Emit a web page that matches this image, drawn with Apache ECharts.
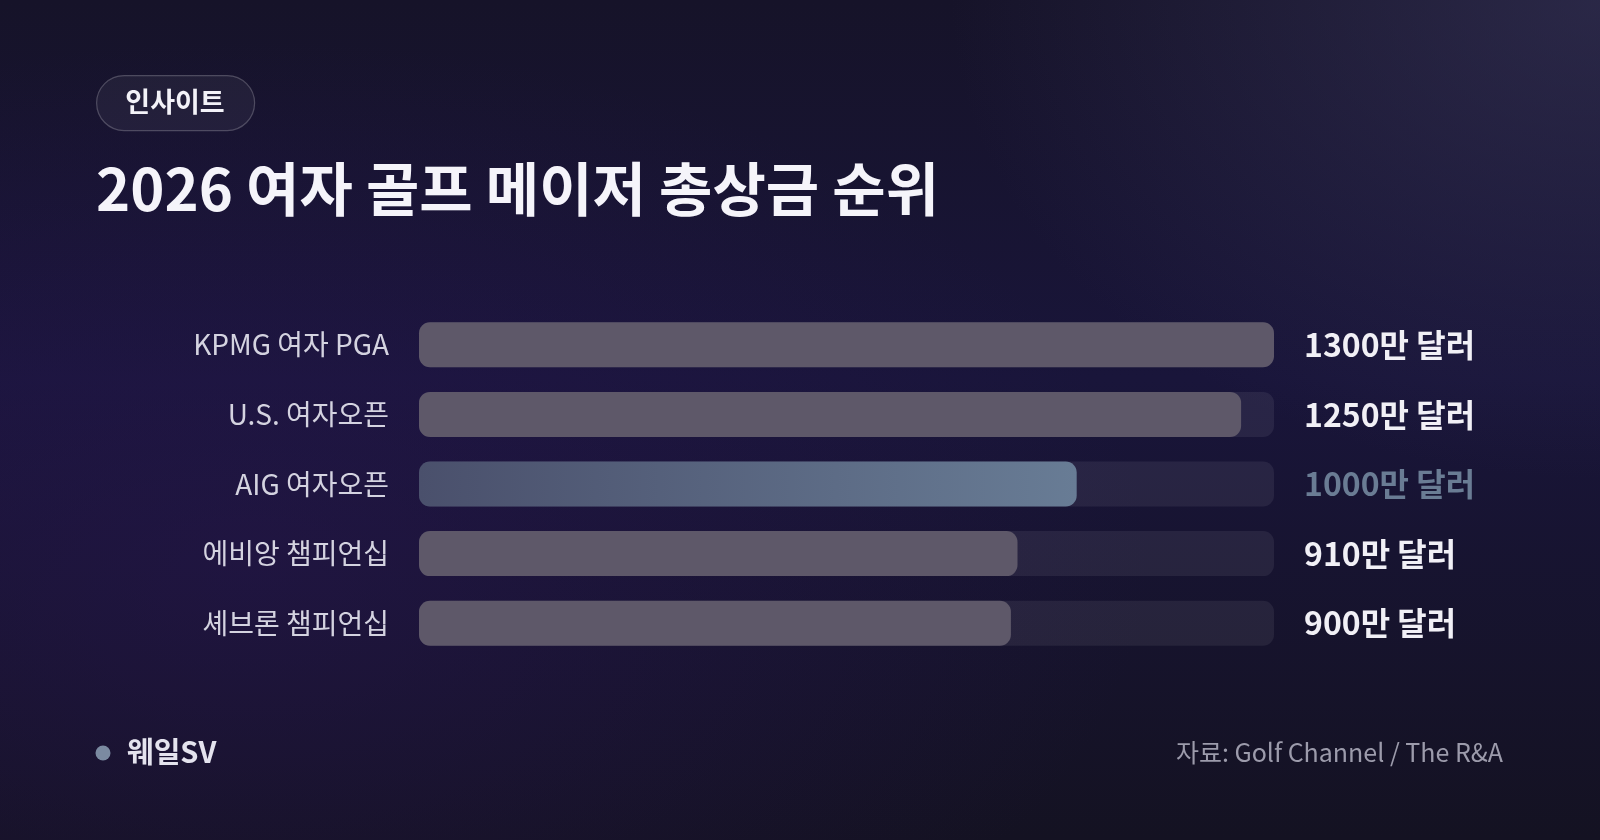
<!DOCTYPE html>
<html>
<head>
<meta charset="utf-8">
<title>2026 여자 골프 메이저 총상금 순위</title>
<script src="https://cdn.jsdelivr.net/npm/echarts@6/dist/echarts.min.js"></script>
<style>
  html, body { margin: 0; padding: 0; }
  body {
    width: 1600px; height: 840px; overflow: hidden;
    background:
      radial-gradient(ellipse 650px 480px at 1600px 0px, rgba(62, 60, 100, 0.5), rgba(62, 60, 100, 0) 100%),
      radial-gradient(ellipse 900px 520px at 250px 560px, rgba(42, 22, 84, 0.45), rgba(42, 22, 84, 0) 100%),
      linear-gradient(180deg, #161329 0%, #19153a 45%, #141222 100%);
  }
  #chart { width: 1600px; height: 840px; }
</style>
</head>
<body>
<div id="chart"></div>
<script>
// 대회별 총상금 (단위: 만 달러)
const categories = ['KPMG 여자 PGA', 'U.S. 여자오픈', 'AIG 여자오픈', '에비앙 챔피언십', '셰브론 챔피언십'];
const purses = [1300, 1250, 1000, 910, 900];
const highlight = 'AIG 여자오픈';
const axisMax = 1300;

const font = '"Noto Sans CJK KR", "Noto Sans", sans-serif';
const chart = echarts.init(document.getElementById('chart'), null, { renderer: 'canvas' });

const barData = purses.map((v, i) => {
  if (categories[i] !== highlight) return v;
  return {
    value: v,
    itemStyle: {
      color: new echarts.graphic.LinearGradient(0, 0, 1, 0, [
        { offset: 0, color: '#4a506c' },
        { offset: 1, color: '#687c95' }
      ])
    }
  };
});

const option = {
  backgroundColor: 'transparent',
  textStyle: { fontFamily: font },
  grid: { left: 419, right: 326, top: 310, height: 348, containLabel: false },
  xAxis: {
    type: 'value', min: 0, max: axisMax,
    show: false
  },
  yAxis: [
    {
      type: 'category', inverse: true, data: categories,
      axisLine: { show: false }, axisTick: { show: false },
      axisLabel: { margin: 30, color: '#d4d3e0', fontSize: 28, fontFamily: font }
    },
    {
      type: 'category', inverse: true, position: 'right', data: categories,
      axisLine: { show: false }, axisTick: { show: false },
      axisLabel: {
        margin: 30, align: 'left', fontFamily: font,
        formatter: (name, i) => {
          const txt = purses[i] + '만 달러';
          return name === highlight ? '{hl|' + txt + '}' : '{n|' + txt + '}';
        },
        rich: {
          n: { color: '#f1f0f6', fontSize: 32, fontWeight: 'bold', fontFamily: font },
          hl: { color: '#6a7c94', fontSize: 32, fontWeight: 'bold', fontFamily: font }
        }
      }
    }
  ],
  series: [{
    type: 'bar',
    data: barData,
    barWidth: 45,
    showBackground: true,
    backgroundStyle: { color: 'rgba(255,255,255,0.07)', borderRadius: 11 },
    itemStyle: { color: '#5e5869', borderRadius: 11 },
    label: { show: false },
    silent: true,
    animation: false
  }],
  graphic: [
    {
      type: 'rect', left: 96, top: 75,
      shape: { width: 158, height: 55, r: 27.5 },
      style: { fill: 'rgba(255,255,255,0.05)', stroke: 'rgba(255,255,255,0.22)', lineWidth: 1.2 }
    },
    {
      type: 'text', x: 175, y: 102,
      style: { text: '인사이트', fill: '#f3f2f8', font: 'bold 27px ' + font, align: 'center', verticalAlign: 'middle' }
    },
    {
      type: 'text', x: 96, y: 189,
      style: { text: '2026 여자 골프 메이저 총상금 순위', fill: '#f5f4fa', font: 'bold 58px ' + font, verticalAlign: 'middle' }
    },
    {
      type: 'circle', shape: { cx: 103, cy: 753, r: 7.5 },
      style: { fill: '#7b8aa1' }
    },
    {
      type: 'text', x: 127, y: 752,
      style: { text: '웨일SV', fill: '#e4e3ee', font: 'bold 29px ' + font, verticalAlign: 'middle' }
    },
    {
      type: 'text', x: 1503, y: 752,
      style: { text: '자료: Golf Channel / The R&A', fill: '#9c9bab', font: '25px ' + font, align: 'right', verticalAlign: 'middle' }
    }
  ]
};

chart.setOption(option);
</script>
</body>
</html>
